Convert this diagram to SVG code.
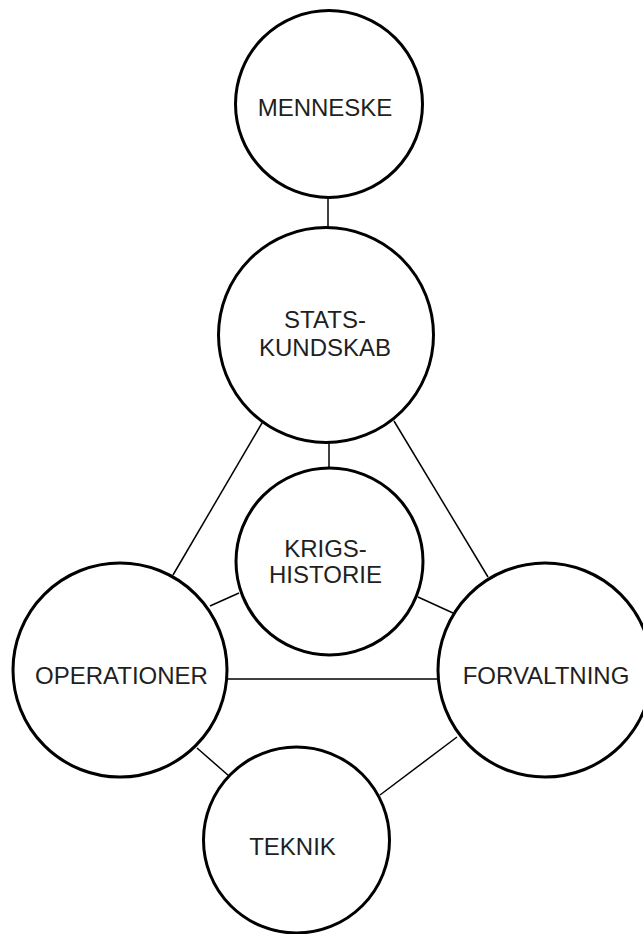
<svg xmlns="http://www.w3.org/2000/svg" width="643" height="934" viewBox="0 0 643 934">
<style>
.node circle{fill:#fff;stroke:#000;stroke-width:3}
.node text{font-family:"Liberation Sans",Arial,sans-serif;font-size:24px;fill:#231f20;text-anchor:middle}
.edges line{stroke:#000;stroke-width:1.5}
</style>
<rect width="643" height="934" fill="#fff"/>
<g class="edges" id="connectors">
<line x1="328" y1="197" x2="328" y2="228"/>
<line x1="329" y1="442" x2="329" y2="468"/>
<line x1="262" y1="423" x2="173" y2="575"/>
<line x1="394" y1="421" x2="488" y2="577"/>
<line x1="239" y1="593" x2="210" y2="606"/>
<line x1="418" y1="597" x2="453" y2="613"/>
<line x1="227" y1="679" x2="438" y2="679"/>
<line x1="197" y1="748" x2="229" y2="776"/>
<line x1="380" y1="795" x2="457" y2="737"/>
</g>
<g class="node" id="menneske">
<circle cx="329" cy="104" r="93.5"/>
<text x="325" y="116">MENNESKE</text>
</g>
<g class="node" id="statskundskab">
<circle cx="326" cy="335" r="107.5"/>
<text x="325" y="328">STATS-</text>
<text x="325" y="356">KUNDSKAB</text>
</g>
<g class="node" id="krigshistorie">
<circle cx="329.5" cy="561.5" r="93.5"/>
<text x="325.5" y="557">KRIGS-</text>
<text x="325.5" y="583">HISTORIE</text>
</g>
<g class="node" id="operationer">
<circle cx="120" cy="670" r="107"/>
<text x="121.5" y="684">OPERATIONER</text>
</g>
<g class="node" id="forvaltning">
<circle cx="545" cy="670" r="107"/>
<text x="546" y="684">FORVALTNING</text>
</g>
<g class="node" id="teknik">
<circle cx="296.5" cy="840" r="93"/>
<text x="292.5" y="855">TEKNIK</text>
</g>
</svg>
